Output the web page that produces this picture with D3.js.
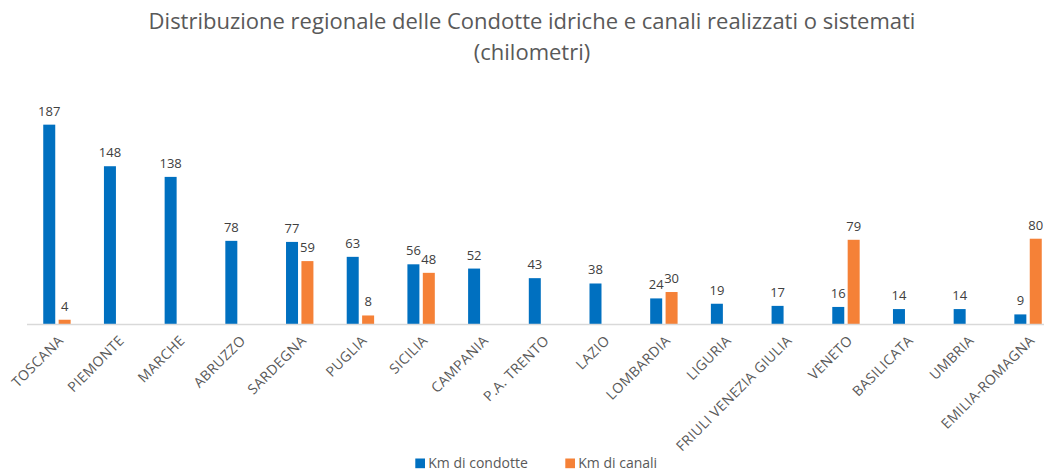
<!DOCTYPE html>
<html>
<head>
<meta charset="utf-8">
<script src="https://cdn.jsdelivr.net/npm/d3@7"></script>
<style>
  html, body { margin: 0; padding: 0; background: #fff; }
  svg { display: block; font-family: "Open Sans", "Noto Sans", sans-serif; }
</style>
</head>
<body>
<svg id="chart" width="1044" height="469"></svg>
<script>
// Regions, in the order they are plotted
const regions = ["TOSCANA", "PIEMONTE", "MARCHE", "ABRUZZO", "SARDEGNA", "PUGLIA", "SICILIA",
  "CAMPANIA", "P.A. TRENTO", "LAZIO", "LOMBARDIA", "LIGURIA", "FRIULI VENEZIA GIULIA",
  "VENETO", "BASILICATA", "UMBRIA", "EMILIA-ROMAGNA"];

// Kilometres of water pipelines built or refurbished
const kmCondotte = [187, 148, 138, 78, 77, 63, 56, 52, 43, 38, 24, 19, 17, 16, 14, 14, 9];

// Kilometres of canals built or refurbished (null = none reported)
const kmCanali = [4, null, null, null, 59, 8, 48, null, null, null, 30, null, null, 79, null, null, 80];

const seriesNames = ["Km di condotte", "Km di canali"];
const seriesColors = ["#0070C0", "#F58137"];
const titleLines = ["Distribuzione regionale delle Condotte idriche e canali realizzati o sistemati",
  "(chilometri)"];

const svg = d3.select("#chart");
const W = 1044;

const x = d3.scaleBand().domain(regions).range([26.6, 1058.4]).padding(0);
const xs = d3.scaleBand().domain([0, 1]).range([-13.7, 13.7]).paddingInner(0.221);
const y = d3.scaleLinear().domain([0, 200]).range([324, 110.8]);

// Title
const title = svg.append("text")
  .attr("x", 532)
  .attr("text-anchor", "middle")
  .attr("fill", "#595959")
  .style("font-size", "22px");
title.selectAll("tspan").data(titleLines).join("tspan")
  .attr("x", 532)
  .attr("y", (d, i) => 29 + i * 31)
  .text(d => d);

// Bars
const rows = regions.map((r, i) => ({ region: r, values: [kmCondotte[i], kmCanali[i]] }));
const groups = svg.append("g").selectAll("g").data(rows).join("g")
  .attr("transform", d => `translate(${x(d.region) + x.bandwidth() / 2},0)`);

const cells = groups.selectAll("g.cell")
  .data(d => d.values.map((v, s) => ({ v, s })).filter(e => e.v != null))
  .join("g").attr("class", "cell");

cells.append("rect")
  .attr("x", d => xs(d.s))
  .attr("width", xs.bandwidth())
  .attr("y", d => y(d.v))
  .attr("height", d => y(0) - y(d.v))
  .attr("fill", d => seriesColors[d.s]);

cells.append("text")
  .attr("x", d => xs(d.s) + xs.bandwidth() / 2)
  .attr("y", d => y(d.v) - 9)
  .attr("text-anchor", "middle")
  .attr("fill", "#404040")
  .style("font-size", "13px")
  .text(d => d.v);

// Category axis
const xAxis = svg.append("g").attr("transform", `translate(0,${y(0)})`)
  .call(d3.axisBottom(x).tickSize(0).tickPadding(0));
xAxis.select(".domain").attr("stroke", "#d9d9d9").attr("stroke-width", 1.4)
  .attr("d", `M27,0.5H${W}`);
xAxis.selectAll(".tick text")
  .attr("fill", "#595959")
  .style("font-size", "14px")
  .style("letter-spacing", "0.4px")
  .style("font-family", "'Open Sans', sans-serif")
  .attr("text-anchor", "end")
  .attr("dy", "0.35em")
  .attr("y", 0)
  .attr("transform", "translate(4,14) rotate(-45)");

// Legend
const legend = svg.append("g").selectAll("g").data(seriesNames).join("g")
  .attr("transform", (d, i) => `translate(${[415.3, 565.3][i]},458.5)`);
legend.append("rect").attr("width", 9.7).attr("height", 9.7)
  .attr("fill", (d, i) => seriesColors[i]);
legend.append("text").attr("x", 13).attr("y", 9)
  .attr("fill", "#595959").style("font-size", "14px").text(d => d);
</script>
</body>
</html>
